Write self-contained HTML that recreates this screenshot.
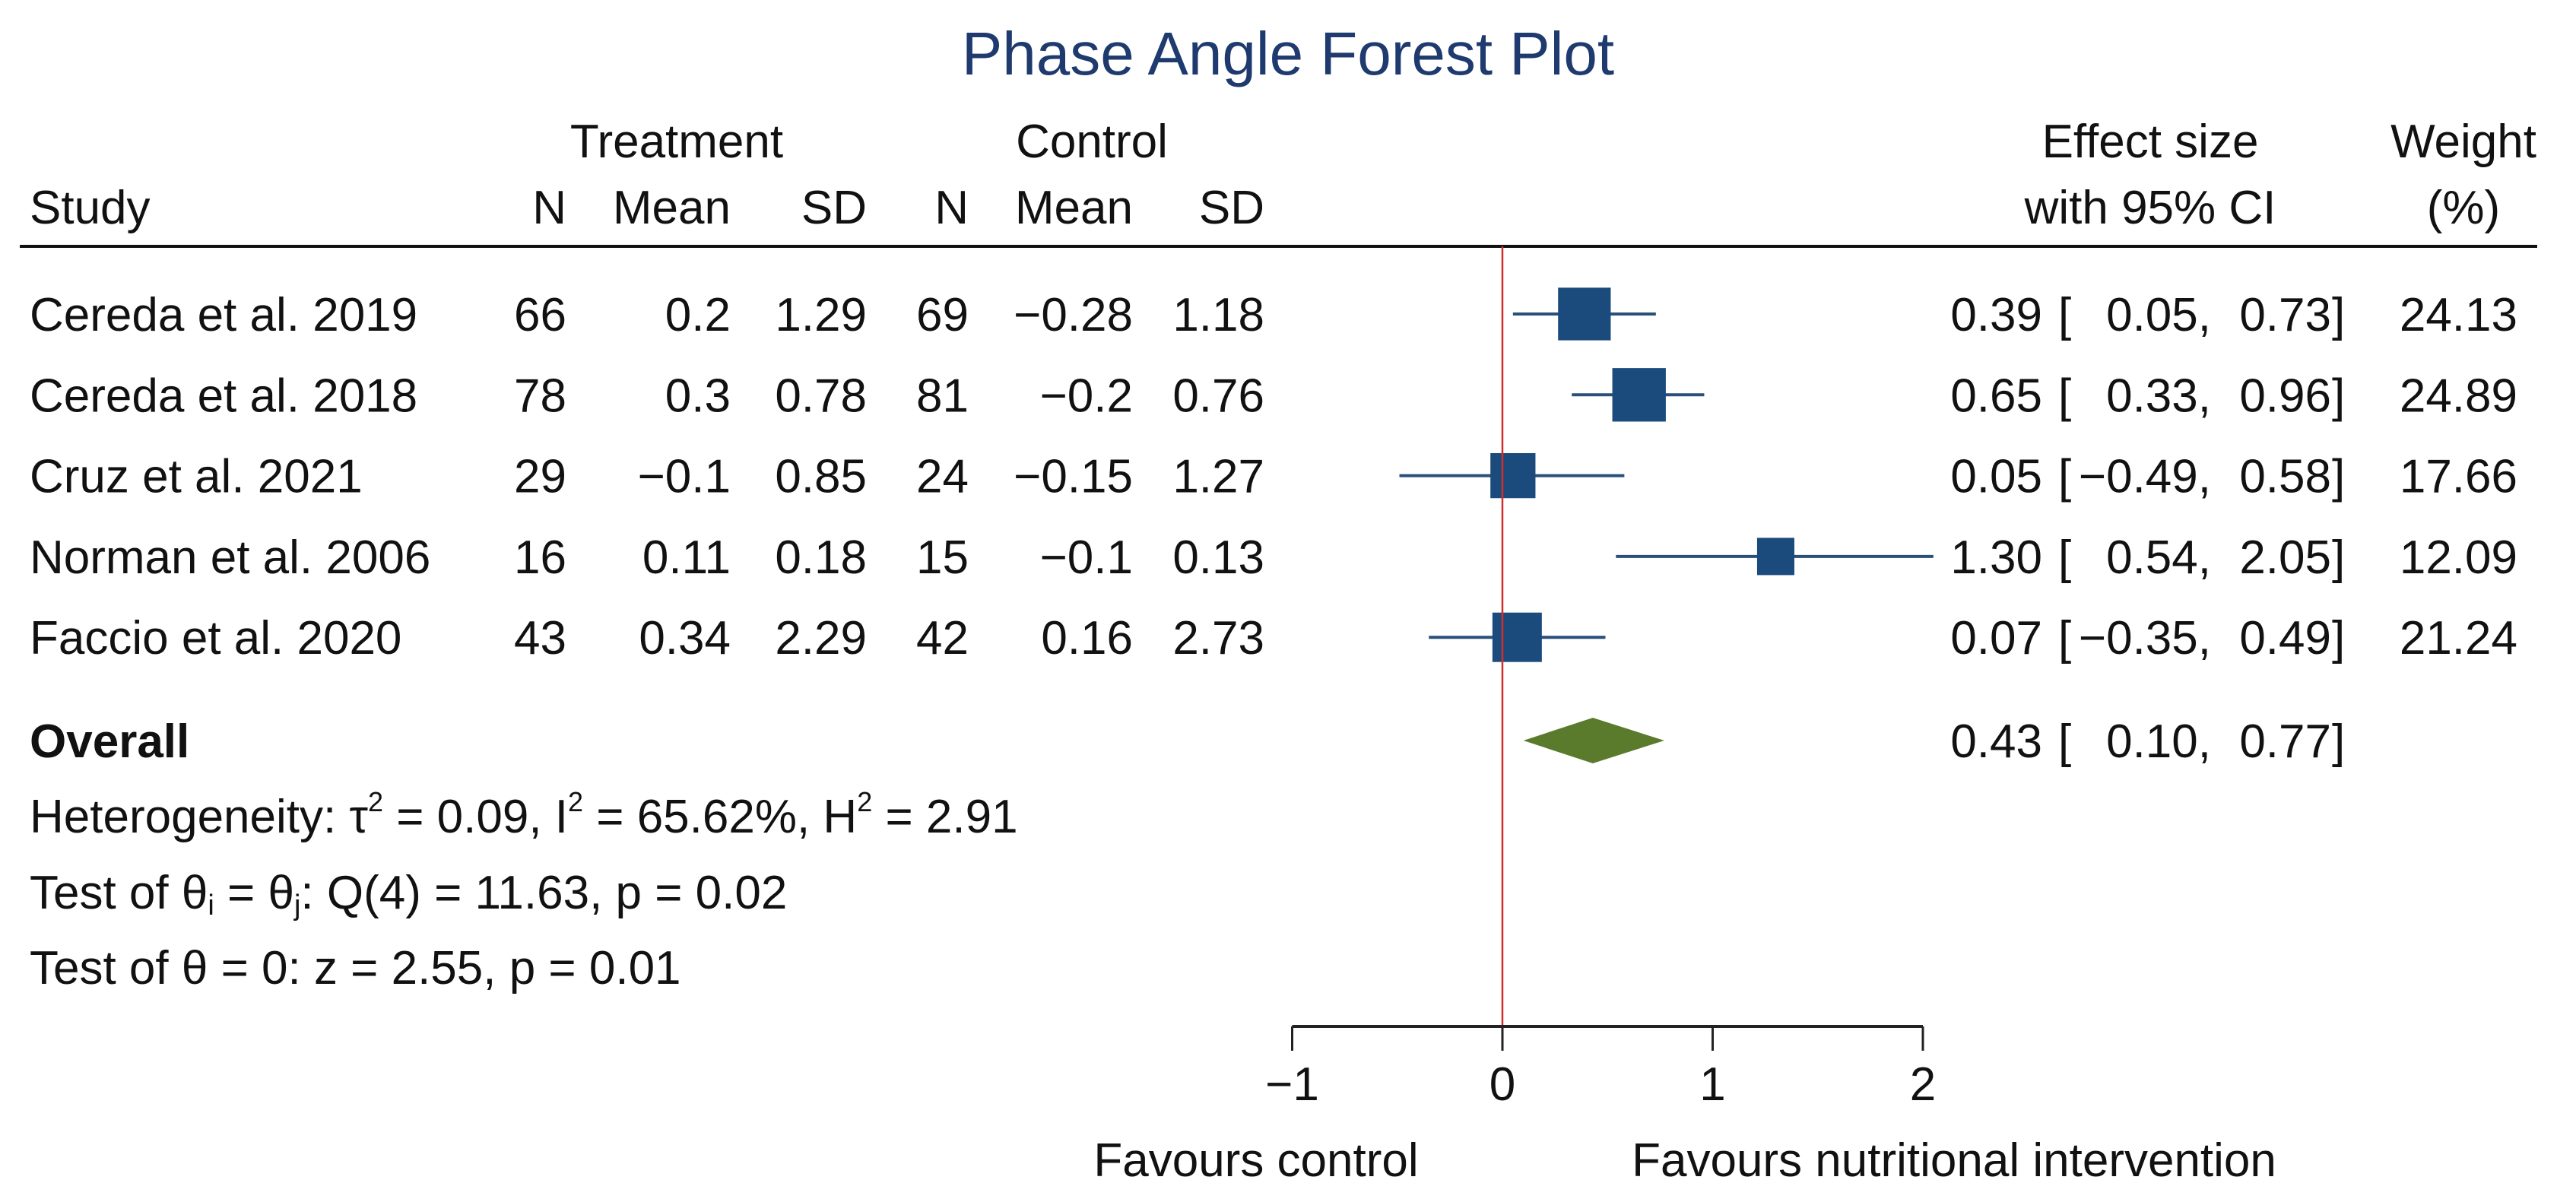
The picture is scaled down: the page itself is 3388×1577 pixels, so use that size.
<!DOCTYPE html>
<html><head><meta charset="utf-8"><style>
html,body{margin:0;padding:0;background:#fff;}
svg{display:block;font-family:"Liberation Sans",Arial,sans-serif;}
</style></head><body>
<svg id="chart" width="3388" height="1577" viewBox="0 0 3388 1577" xmlns="http://www.w3.org/2000/svg">
<text x="1694" y="98" font-size="80" fill="#1e3a6e" text-anchor="middle">Phase Angle Forest Plot</text>
<g id="hdr" font-size="62" fill="#111">
<text x="890" y="207" text-anchor="middle">Treatment</text>
<text x="1436" y="207" text-anchor="middle">Control</text>
<text x="2828" y="207" text-anchor="middle">Effect size</text>
<text x="3240" y="207" text-anchor="middle">Weight</text>
<text x="39" y="294">Study</text>
<text x="745" y="294" text-anchor="end">N</text>
<text x="961" y="294" text-anchor="end">Mean</text>
<text x="1140" y="294" text-anchor="end">SD</text>
<text x="1274" y="294" text-anchor="end">N</text>
<text x="1490" y="294" text-anchor="end">Mean</text>
<text x="1663" y="294" text-anchor="end">SD</text>
<text x="2828" y="294" text-anchor="middle">with 95% CI</text>
<text x="3240" y="294" text-anchor="middle">(%)</text>
</g>
<line x1="26" y1="324" x2="3337" y2="324" stroke="#111" stroke-width="4"/>
<g id="rows" font-size="62" fill="#111"></g>
<g id="marks"></g>
<g font-size="62" fill="#111">
<text x="39" y="996" font-weight="bold">Overall</text>
<text x="39" y="1095">Heterogeneity: τ<tspan font-size="36" dy="-28">2</tspan><tspan dy="28"> = 0.09, I</tspan><tspan font-size="36" dy="-28">2</tspan><tspan dy="28"> = 65.62%, H</tspan><tspan font-size="36" dy="-28">2</tspan><tspan dy="28"> = 2.91</tspan></text>
<text x="39" y="1195">Test of θ<tspan font-size="38" dy="8">i</tspan><tspan dy="-8"> = θ</tspan><tspan font-size="38" dy="8">j</tspan><tspan dy="-8">: Q(4) = 11.63, p = 0.02</tspan></text>
<text x="39" y="1294">Test of θ = 0: z = 2.55, p = 0.01</text>
<text x="1652" y="1547" text-anchor="middle">Favours control</text>
<text x="2570" y="1547" text-anchor="middle">Favours nutritional intervention</text>
</g>
<script>
const studies=["Cereda et al. 2019","Cereda et al. 2018","Cruz et al. 2021","Norman et al. 2006","Faccio et al. 2020"];
const tN=[66,78,29,16,43];
const tMean=["0.2","0.3","−0.1","0.11","0.34"];
const tSD=["1.29","0.78","0.85","0.18","2.29"];
const cN=[69,81,24,15,42];
const cMean=["−0.28","−0.2","−0.15","−0.1","0.16"];
const cSD=["1.18","0.76","1.27","0.13","2.73"];
const est=[0.39,0.65,0.05,1.30,0.07];
const lo=[0.05,0.33,-0.49,0.54,-0.35];
const hi=[0.73,0.96,0.58,2.05,0.49];
const weight=[24.13,24.89,17.66,12.09,21.24];
const overall=[0.43,0.10,0.77];
const ticks=[-1,0,1,2];
const NS="http://www.w3.org/2000/svg";
const X=v=>1976+v*276.5;
const rowY=i=>413+i*106.3;
const fmt=v=>(v<0?"−":"")+Math.abs(v).toFixed(2);
const rows=document.getElementById('rows'),marks=document.getElementById('marks'),svg=document.getElementById('chart');
function mk(p,tag,a){const e=document.createElementNS(NS,tag);for(const k in a)e.setAttribute(k,a[k]);p.appendChild(e);return e;}
function txt(x,y,s,anchor){const e=mk(rows,'text',{x:x,y:y,'text-anchor':anchor||'start'});e.textContent=s;return e;}
function ciText(y,e0,l0,h0){
 let e=txt(2686,y,e0.toFixed(2),'end');
 
 
 e=txt(2707,y,'[');
 
 
 e=txt(2908,y,fmt(l0)+',','end');
 
 
 e=txt(3066,y,fmt(h0),'end');
 
 
 e=txt(3067,y,']');
 
 
}
studies.forEach((s,i)=>{
 const y=rowY(i)+22;
 let e=txt(39,y,s);
 
 
 const cols=[[745,tN[i]],[961,tMean[i]],[1140,tSD[i]],[1274,cN[i]],[1490,cMean[i]],[1663,cSD[i]]];
 cols.forEach(c=>{e=txt(c[0],y,String(c[1]),'end');
 
 });
 ciText(y,est[i],lo[i],hi[i]);
 e=txt(3311,y,weight[i].toFixed(2),'end');
 
 
 const cy=rowY(i);
 const l=mk(marks,'line',{x1:X(lo[i]),x2:X(hi[i]),y1:cy,y2:cy,stroke:'#2a4f7a','stroke-width':4});
 
 
 const sz=14.1*Math.sqrt(weight[i]);
 const r=mk(marks,'rect',{x:X(est[i])-sz/2,y:cy-sz/2,width:sz,height:sz,fill:'#1b4a7c'});
 
 
});
ciText(974+22,overall[0],overall[1],overall[2]);
const d=mk(marks,'polygon',{points:`${X(overall[1])},974 ${X(overall[0])},944 ${X(overall[2])},974 ${X(overall[0])},1004`,fill:'#5a7a2c'});


const ref=mk(svg,'line',{x1:X(0),x2:X(0),y1:324,y2:1350,stroke:'#d0302c','stroke-width':2.5});


const ax=mk(svg,'line',{x1:X(ticks[0]),x2:X(ticks[ticks.length-1]),y1:1350,y2:1350,stroke:'#222','stroke-width':4});


ticks.forEach(t=>{
 const tk=mk(svg,'line',{x1:X(t),x2:X(t),y1:1350,y2:1382,stroke:'#222','stroke-width':3});
 
 
 const lb=mk(svg,'text',{x:X(t),y:1447,'text-anchor':'middle','font-size':62,fill:'#111'});
 lb.textContent=(t<0?'−':'')+Math.abs(t);
 
 
});
</script>
</svg>
</body></html>
